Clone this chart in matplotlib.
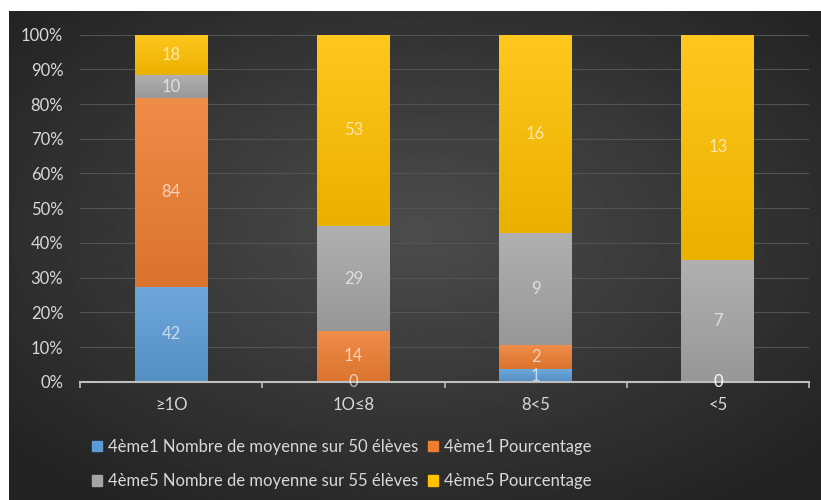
import numpy as np
import matplotlib.pyplot as plt
from matplotlib.patches import Patch
from matplotlib.colors import to_rgb

plt.rcParams['font.family'] = ['Lato', 'DejaVu Sans']

# data
categories = ['≥1O', '1O≤8', '8<5', '<5']
series_names = ['4ème1 Nombre de moyenne sur 50 élèves', '4ème1 Pourcentage',
                '4ème5 Nombre de moyenne sur 55 élèves', '4ème5 Pourcentage']
n1 = [42, 0, 1, 0]
p1 = [84, 14, 2, 0]
n5 = [10, 29, 9, 7]
p5 = [18, 53, 16, 13]
colors = ['#5b9bd5', '#ed7d31', '#a5a5a5', '#ffc000']

txt = '#d9d9d9'
fs = 12

data = np.array([n1, p1, n5, p5], dtype=float)
shares = data / data.sum(axis=0) * 100

fig = plt.figure(figsize=(8.21, 5.0), dpi=100)
fig.patch.set_facecolor('white')

# dark radial background like the Excel style
bg = fig.add_axes([9 / 821, 0, 1 - 9 / 821, 1 - 11 / 500])
yy, xx = np.mgrid[0:1:300j, 0:1:500j]
r = np.sqrt(((xx - 0.5) / 0.62) ** 2 + ((yy - 0.45) / 0.62) ** 2)
shade = np.clip(0.30 - 0.15 * r, 0.14, 0.30)
bg.imshow(shade, cmap='gray', vmin=0, vmax=1, aspect='auto', extent=[0, 1, 0, 1])
bg.axis('off')

ax = fig.add_axes([80 / 821, 1 - 381.7 / 500, 729 / 821, 347 / 500])
ax.set_facecolor('none')

x = np.arange(len(categories))
bottom = np.zeros(len(categories))
for name, vals, share, col in zip(series_names, data, shares, colors):
    bars = ax.bar(x, share, 0.4, bottom=bottom, color=col, label=name, zorder=3)
    c = np.array(to_rgb(col))
    top_c = c + (1 - c) * 0.12
    bot_c = c * 0.92
    grad = np.linspace(0, 1, 64)[:, None, None] * (bot_c - top_c) + top_c
    for b, v in zip(bars, vals):
        if b.get_height() > 0:
            im = ax.imshow(grad, aspect='auto', zorder=3.5,
                           extent=[b.get_x(), b.get_x() + b.get_width(),
                                   b.get_y(), b.get_y() + b.get_height()])
            im.set_clip_path(b)
        ax.text(b.get_x() + b.get_width() / 2, b.get_y() + b.get_height() / 2,
                f'{v:g}', ha='center', va='center', color='white', alpha=0.65,
                fontsize=fs, zorder=5)
    bottom += share

ax.set_xlim(-0.5, len(categories) - 0.5)
ax.set_ylim(0, 100)
ax.set_yticks(np.arange(0, 101, 10))
ax.set_yticklabels([f'{v}%' for v in range(0, 101, 10)])
ax.set_xticks(x)
ax.set_xticklabels(categories)
ax.set_xticks(np.arange(-0.5, len(categories)), minor=True)
ax.tick_params(axis='y', length=0, pad=12, labelcolor=txt, labelsize=fs)
ax.tick_params(axis='x', which='major', length=0, pad=11, labelcolor=txt, labelsize=fs)
ax.tick_params(axis='x', which='minor', length=4, color='#bfbfbf', width=1.2)
ax.yaxis.grid(True, color='#535353', lw=0.8, zorder=0)
ax.set_axisbelow(True)
for s in ['top', 'right', 'left']:
    ax.spines[s].set_visible(False)
ax.spines['bottom'].set_color('#bfbfbf')
ax.spines['bottom'].set_linewidth(1.5)
ax.spines['bottom'].set_zorder(4)

handles = [Patch(color=colors[i], label=series_names[i]) for i in (0, 2, 1, 3)]
fig.legend(handles=handles, ncol=2, loc='upper left',
           bbox_to_anchor=(92 / 821, 1 - 439 / 500), frameon=False,
           fontsize=fs, labelcolor=txt, handlelength=0.6, handleheight=0.6,
           handletextpad=0.35, columnspacing=0.6, labelspacing=1.1,
           borderpad=0, borderaxespad=0)

fig.savefig('out.png', dpi=100, facecolor=fig.get_facecolor())
